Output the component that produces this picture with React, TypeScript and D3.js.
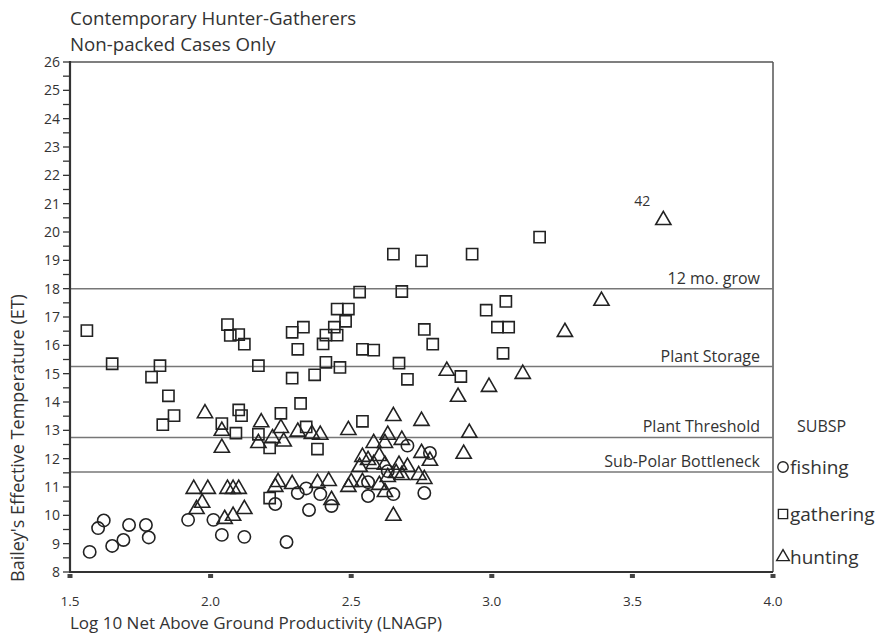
import React from "react";
import * as d3 from "d3";

const title1 = "Contemporary Hunter-Gatherers";
const title2 = "Non-packed Cases Only";
const xLabel = "Log 10 Net Above Ground Productivity (LNAGP)";
const yLabel = "Bailey's Effective Temperature (ET)";
const xTicks = [1.5, 2.0, 2.5, 3.0, 3.5, 4.0];
const yTicks = [8, 9, 10, 11, 12, 13, 14, 15, 16, 17, 18, 19, 20, 21, 22, 23, 24, 25, 26];
const refLines = [
  { value: 18, label: "12 mo. grow" },
  { value: 15.25, label: "Plant Storage" },
  { value: 12.75, label: "Plant Threshold" },
  { value: 11.53, label: "Sub-Polar Bottleneck" },
];

const fishing: [number, number][] = [
  [1.57, 8.71], [1.6, 9.55], [1.62, 9.82], [1.65, 8.92], [1.69, 9.13], [1.71, 9.66],
  [1.77, 9.66], [1.78, 9.22], [1.92, 9.84], [2.01, 9.84], [2.04, 9.31], [2.12, 9.24],
  [2.23, 10.4], [2.27, 9.06], [2.31, 10.79], [2.34, 10.95], [2.35, 10.19], [2.39, 10.75],
  [2.43, 10.33], [2.56, 11.17], [2.56, 10.68], [2.63, 11.56], [2.65, 10.75], [2.7, 12.46],
  [2.76, 10.79], [2.78, 12.2],
];

const gathering: [number, number][] = [
  [1.56, 16.52], [1.65, 15.35], [1.79, 14.88], [1.82, 15.28], [1.85, 14.22], [1.83, 13.2],
  [1.87, 13.52], [2.04, 13.24], [2.06, 16.73], [2.07, 16.35], [2.1, 16.38], [2.12, 16.04],
  [2.1, 13.72], [2.11, 13.52], [2.09, 12.9], [2.17, 15.28], [2.17, 12.86], [2.21, 12.38],
  [2.21, 10.61], [2.25, 13.6], [2.29, 16.46], [2.33, 16.64], [2.31, 15.86], [2.29, 14.84],
  [2.32, 13.95], [2.34, 13.12], [2.37, 14.96], [2.38, 12.34], [2.4, 16.05], [2.41, 16.36],
  [2.41, 15.4], [2.44, 16.64], [2.45, 16.36], [2.45, 17.28], [2.46, 15.22], [2.48, 16.85],
  [2.49, 17.28], [2.53, 17.88], [2.54, 15.86], [2.54, 13.32], [2.58, 15.83], [2.65, 19.22],
  [2.67, 15.37], [2.68, 17.9], [2.7, 14.8], [2.75, 18.98], [2.76, 16.56], [2.79, 16.04],
  [2.89, 14.9], [2.93, 19.22], [2.98, 17.24], [3.02, 16.64], [3.04, 15.72], [3.05, 17.55],
  [3.06, 16.64], [3.17, 19.82],
];

const hunting: [number, number][] = [
  [1.94, 10.93], [1.95, 10.22], [1.97, 10.44], [1.98, 13.6], [1.99, 10.93], [2.04, 12.38],
  [2.04, 12.98], [2.05, 9.87], [2.06, 10.93], [2.08, 9.98], [2.08, 10.93], [2.1, 10.93],
  [2.12, 10.22], [2.17, 12.55], [2.18, 13.28], [2.22, 12.72], [2.23, 11.0], [2.24, 11.17],
  [2.25, 13.08], [2.26, 12.6], [2.29, 11.1], [2.31, 12.95], [2.36, 12.87], [2.38, 11.14],
  [2.39, 12.84], [2.42, 11.21], [2.43, 10.54], [2.49, 13.01], [2.49, 11.0], [2.5, 11.17],
  [2.53, 11.71], [2.54, 12.06], [2.54, 11.17], [2.56, 11.95], [2.58, 11.81], [2.58, 12.55],
  [2.6, 12.09], [2.6, 11.07], [2.62, 12.55], [2.62, 11.78], [2.62, 10.82], [2.63, 11.35],
  [2.63, 12.84], [2.65, 13.5], [2.65, 9.98], [2.66, 11.49], [2.67, 11.78], [2.68, 12.66],
  [2.68, 11.42], [2.7, 11.71], [2.74, 11.42], [2.75, 12.2], [2.75, 13.33], [2.76, 11.28],
  [2.78, 11.92], [2.84, 15.1], [2.88, 14.18], [2.9, 12.17], [2.92, 12.91], [2.99, 14.53],
  [3.11, 14.99], [3.26, 16.47], [3.39, 17.57], [3.61, 20.42],
];

const annotation = { x: 3.61, y: 20.42, label: "42" };
const legendTitle = "SUBSP";
const legendItems = ["fishing", "gathering", "hunting"];

const W = 884;
const H = 635;
const L = 70, R = 773, T = 62, B = 572;
const FONT = "'Open Sans', 'DejaVu Sans', sans-serif";
const INK = "#222";

export default function App() {
  const x = d3.scaleLinear().domain([1.5, 4.0]).range([L, R]);
  const y = d3.scaleLinear().domain([8, 26]).range([B, T]);
  const minor = d3.range(8, 26.01, 0.5);
  const circle = d3.symbol().type(d3.symbolCircle).size(120)();
  const square = d3.symbol().type(d3.symbolSquare).size(125)();
  const tri = d3.symbol().type(d3.symbolTriangle).size(100)();
  const legTri = d3.symbol().type(d3.symbolTriangle).size(70)();
  const legSq = d3.symbol().type(d3.symbolSquare).size(85)();
  const legCi = d3.symbol().type(d3.symbolCircle).size(85)();

  const mark = (d: string, pts: [number, number][], key: string) =>
    pts.map((p, i) => (
      <path key={key + i} d={d} transform={`translate(${x(p[0])},${y(p[1])})`}
        fill="none" stroke={INK} strokeWidth={1.6} />
    ));

  return (
    <svg width={W} height={H} style={{ position: "absolute", left: 0, top: 0, background: "#fff" }}
      fontFamily={FONT}>
      <rect width={W} height={H} fill="#fff" />
      <text x={L} y={25} fontSize={18.7} fill="#333">{title1}</text>
      <text x={L} y={51} fontSize={18.7} fill="#333">{title2}</text>

      {/* frame */}
      <line x1={L} x2={R} y1={T} y2={T} stroke="#555" strokeWidth={1.5} />
      <line x1={R} x2={R} y1={T} y2={B} stroke="#555" strokeWidth={1.5} />

      {/* reference lines */}
      {refLines.map((r) => (
        <g key={r.label}>
          <line x1={L} x2={R} y1={y(r.value)} y2={y(r.value)} stroke="#777" strokeWidth={1.5} />
          <text x={760} y={y(r.value) - 5} textAnchor="end" fontSize={16} fill="#333">{r.label}</text>
        </g>
      ))}

      {/* y axis */}
      <line x1={L} x2={L} y1={T - 1} y2={B + 1} stroke="#333" strokeWidth={2.2} />
      {minor.map((v) => (
        <line key={"m" + v} x1={L - 7} x2={L} y1={y(v)} y2={y(v)} stroke="#333" strokeWidth={1.3} />
      ))}
      {yTicks.map((v) => (
        <text key={"y" + v} x={L - 10} y={y(v)} dy="0.35em" textAnchor="end" fontSize={14} fill="#333">{v}</text>
      ))}

      {/* x axis */}
      <line x1={L} x2={R} y1={B} y2={B} stroke="#333" strokeWidth={2.2} />
      {xTicks.map((v) => (
        <g key={"x" + v}>
          <rect x={x(v) - 2.5} y={B + 2} width={5} height={4} fill="#444" />
          <text x={x(v)} y={606} textAnchor="middle" fontSize={13.5} fill="#333">{v.toFixed(1)}</text>
        </g>
      ))}

      <text x={L} y={629} fontSize={17} fill="#333">{xLabel}</text>
      <text transform={`translate(24,582) rotate(-90)`} textAnchor="start" fontSize={18} fill="#333">{yLabel}</text>

      {/* points */}
      {mark(circle, fishing, "f")}
      {mark(square, gathering, "g")}
      {mark(tri, hunting, "h")}

      <text x={x(annotation.x) - 29} y={y(annotation.y) - 14} fontSize={14} fill="#333">{annotation.label}</text>

      {/* legend */}
      <text x={797} y={432} fontSize={16} fill="#333">{legendTitle}</text>
      {legendItems.map((name, i) => {
        const cy = [467, 514, 557][i];
        const d = [legCi, legSq, legTri][i];
        return (
          <g key={name}>
            <path d={d} transform={`translate(783,${cy})`} fill="none" stroke={INK} strokeWidth={1.4} />
            <text x={790} y={cy} dy="0.35em" fontSize={19} fill="#333">{name}</text>
          </g>
        );
      })}
    </svg>
  );
}
